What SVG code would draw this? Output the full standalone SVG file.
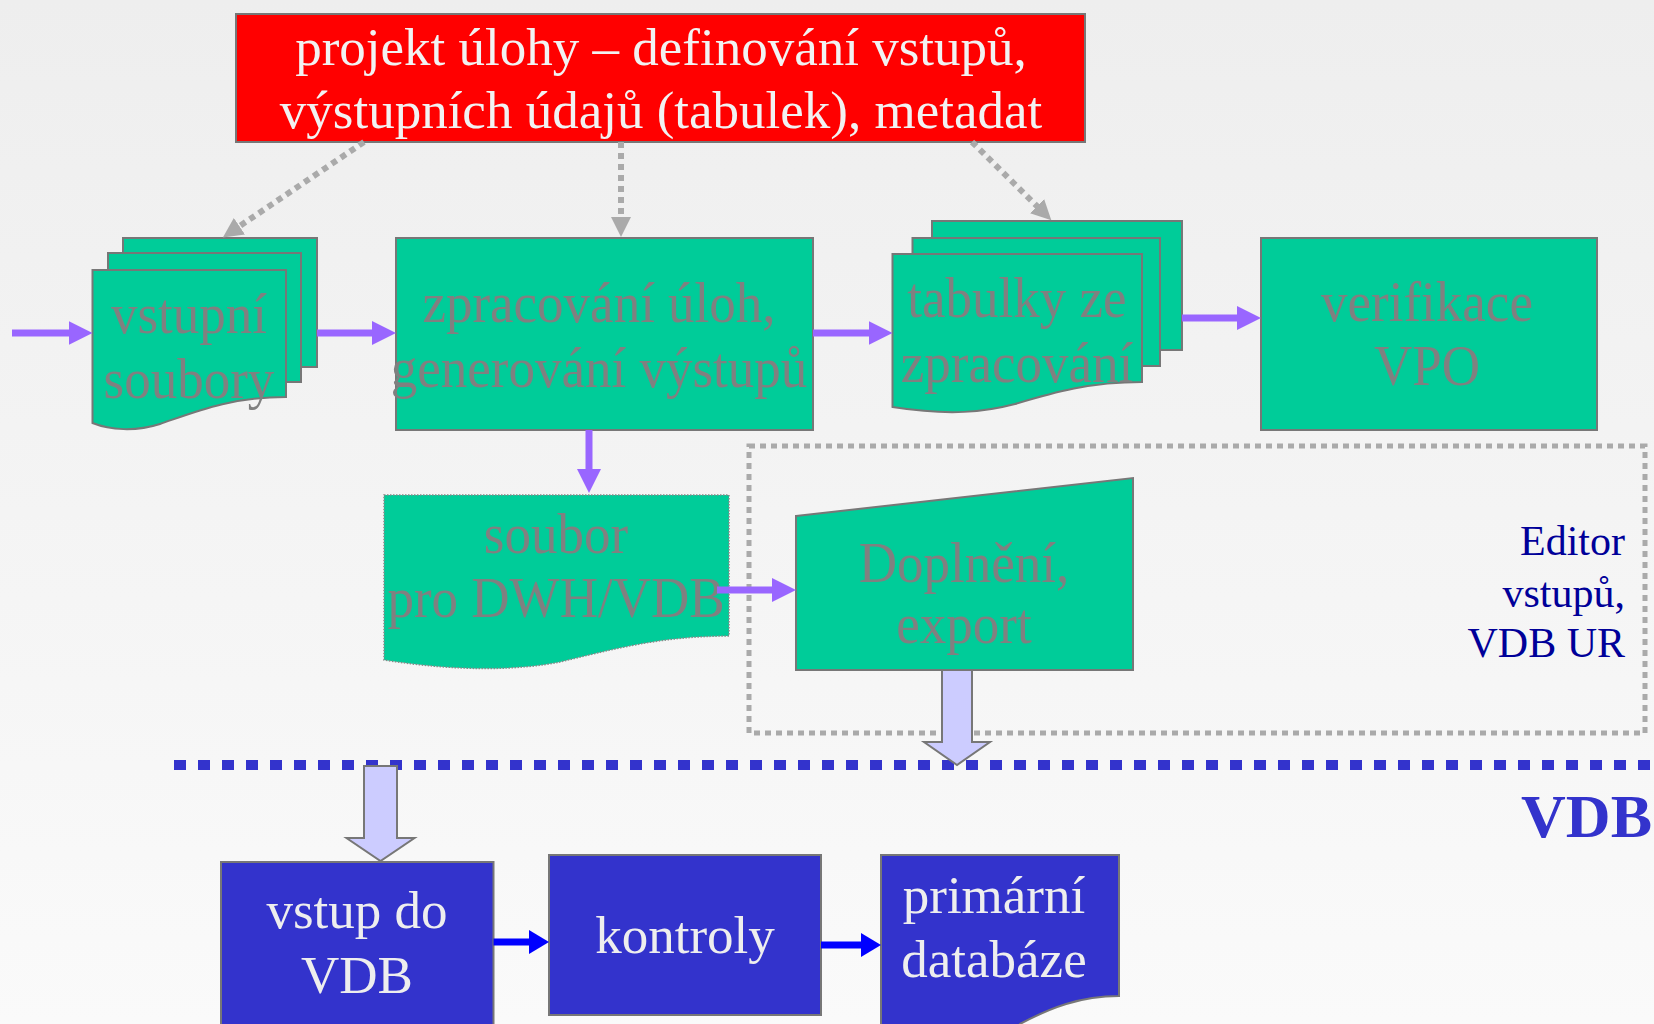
<svg xmlns="http://www.w3.org/2000/svg" width="1654" height="1024" viewBox="0 0 1654 1024">
<defs>
<linearGradient id="bg" x1="0" y1="0" x2="0" y2="1">
<stop offset="0" stop-color="#eeeeee"/>
<stop offset="1" stop-color="#fafafa"/>
</linearGradient>
<marker id="mP" viewBox="0 0 24 24" refX="1" refY="12" markerWidth="24" markerHeight="24" markerUnits="userSpaceOnUse" orient="auto"><path d="M0,0 L24,12 L0,24 Z" fill="#9966FF"/></marker>
<marker id="mB" viewBox="0 0 20 24" refX="1" refY="12" markerWidth="20" markerHeight="24" markerUnits="userSpaceOnUse" orient="auto"><path d="M0,0 L20,12 L0,24 Z" fill="#0000FF"/></marker>
<marker id="mG" viewBox="0 0 20 20" refX="1" refY="10" markerWidth="20" markerHeight="20" markerUnits="userSpaceOnUse" orient="auto"><path d="M0,0 L20,10 L0,20 Z" fill="#aaaaaa"/></marker>
</defs>
<style>
.g{fill:#00CC99;stroke:#777777;stroke-width:2}
.b{fill:#3333CC;stroke:#777777;stroke-width:2}
.t{font-family:"Liberation Serif","Times New Roman",serif;font-size:53px;text-anchor:middle}
.tg{fill:#808080}
.tw{fill:#eeeeee}
.pa{stroke:#9966FF;stroke-width:7;fill:none;marker-end:url(#mP)}
.ba{stroke:#0000FF;stroke-width:7;fill:none;marker-end:url(#mB)}
.da{stroke:#aaaaaa;stroke-width:6;stroke-dasharray:6 5;fill:none;marker-end:url(#mG)}
.la{fill:#CCCCFF;stroke:#777777;stroke-width:2}
</style>
<rect width="1654" height="1024" fill="url(#bg)"/>

<g id="editor-region">
<rect x="749" y="446" width="896" height="287" fill="none" stroke="#aaaaaa" stroke-width="5" stroke-dasharray="6 5"/>
<text font-family="Liberation Serif,serif" font-size="42" fill="#000099" text-anchor="end"><tspan x="1625" y="555">Editor</tspan><tspan x="1625" y="607">vstupů,</tspan><tspan x="1625" y="657">VDB UR</tspan></text>
</g>

<g id="projekt">
<rect x="236" y="14" width="849" height="128" fill="#FF0000" stroke="#777777" stroke-width="2"/>
<text class="t" fill="#f2f2f2"><tspan x="661" y="65">projekt úlohy – definování vstupů,</tspan><tspan x="661" y="128">výstupních údajů (tabulek), metadat</tspan></text>
</g>

<g id="vstupni-soubory">
<rect class="g" x="123" y="238" width="194" height="129"/>
<rect class="g" x="108" y="253" width="193" height="129"/>
<path class="g" d="M92.5,270 H286 V397 C230,397 195,412 160,424 C135,432 110,430 92.5,423 Z"/>
<text class="t tg" transform="scale(1,1.08)"><tspan x="189" y="308.33">vstupní</tspan><tspan x="189" y="368.52">soubory</tspan></text>
</g>

<g id="zpracovani">
<rect class="g" x="396" y="238" width="417" height="192"/>
<text class="t tg" transform="scale(1,1.08)"><tspan x="599" y="298.15">zpracování úloh,</tspan><tspan x="599" y="358.33">generování výstupů</tspan></text>
</g>

<g id="tabulky">
<rect class="g" x="932" y="221" width="250" height="129"/>
<rect class="g" x="912.5" y="238" width="247.5" height="128"/>
<path class="g" d="M892.5,254 H1142 V382 C1090,382 1055,392 1015,404 C985,412 950,416 892.5,407 Z"/>
<text class="t tg" transform="scale(1,1.08)"><tspan x="1017" y="293.52">tabulky ze</tspan><tspan x="1017" y="353.70">zpracování</tspan></text>
</g>

<g id="verifikace">
<rect class="g" x="1261" y="238" width="336" height="192"/>
<text class="t tg" transform="scale(1,1.08)"><tspan x="1427" y="297.22">verifikace</tspan><tspan x="1427" y="356.48">VPO</tspan></text>
</g>

<g id="soubor-dwh">
<path d="M384,495 H729 V636 C660,636 610,650 560,662 C520,670 460,672 384,660 Z" fill="#00CC99" stroke="#888888" stroke-width="1.5" stroke-dasharray="1.5 1.5"/>
<text class="t tg" transform="scale(1,1.08)"><tspan x="556" y="512.04">soubor</tspan><tspan x="556" y="571.30">pro DWH/VDB</tspan></text>
</g>

<g id="doplneni">
<polygon class="g" points="796,516 1133,478 1133,670 796,670"/>
<text class="t tg" transform="scale(1,1.08)"><tspan x="964" y="538.89">Doplnění,</tspan><tspan x="964" y="595.37">export</tspan></text>
</g>

<g id="vstup-vdb">
<rect class="b" x="221" y="862" width="272.5" height="170"/>
<text class="t tw"><tspan x="357" y="928">vstup do</tspan><tspan x="357" y="993">VDB</tspan></text>
</g>

<g id="kontroly">
<rect class="b" x="549" y="855" width="272" height="160"/>
<text class="t tw" x="685" y="953">kontroly</text>
</g>

<g id="primarni">
<path class="b" d="M881,855 H1119 V996 C1080,996 1050,1008 1020,1024 L1010,1034 H881 Z"/>
<text class="t tw"><tspan x="994" y="913">primární</tspan><tspan x="994" y="977">databáze</tspan></text>
</g>

<g id="vdb-boundary">
<line x1="174" y1="765" x2="1654" y2="765" stroke="#3333CC" stroke-width="10" stroke-dasharray="12 12"/>
<text font-family="Liberation Serif,serif" font-size="62" font-weight="bold" fill="#3333CC" text-anchor="end" x="1652" y="837">VDB</text>
</g>

<g id="connectors">
<line class="da" x1="364" y1="142" x2="238.6" y2="226.8"/>
<line class="da" x1="621" y1="142" x2="621" y2="218"/>
<line class="da" x1="972" y1="142" x2="1037.8" y2="206.9"/>
<line class="pa" x1="12" y1="333" x2="69.5" y2="333"/>
<line class="pa" x1="317" y1="333" x2="373" y2="333"/>
<line class="pa" x1="813" y1="333" x2="869.5" y2="333"/>
<line class="pa" x1="1182" y1="318" x2="1238" y2="318"/>
<line class="pa" x1="589" y1="430" x2="589" y2="470"/>
<line class="pa" x1="717" y1="590" x2="773" y2="590"/>
<line class="ba" x1="493.5" y1="942" x2="530" y2="942"/>
<line class="ba" x1="821" y1="945" x2="862" y2="945"/>
<polygon class="la" points="942,670 972,670 972,742 990,742 957,765 924,742 942,742"/>
<polygon class="la" points="364,766 397,766 397,838 414.5,838 380.5,861 346.5,838 364,838"/>
</g>
</svg>
